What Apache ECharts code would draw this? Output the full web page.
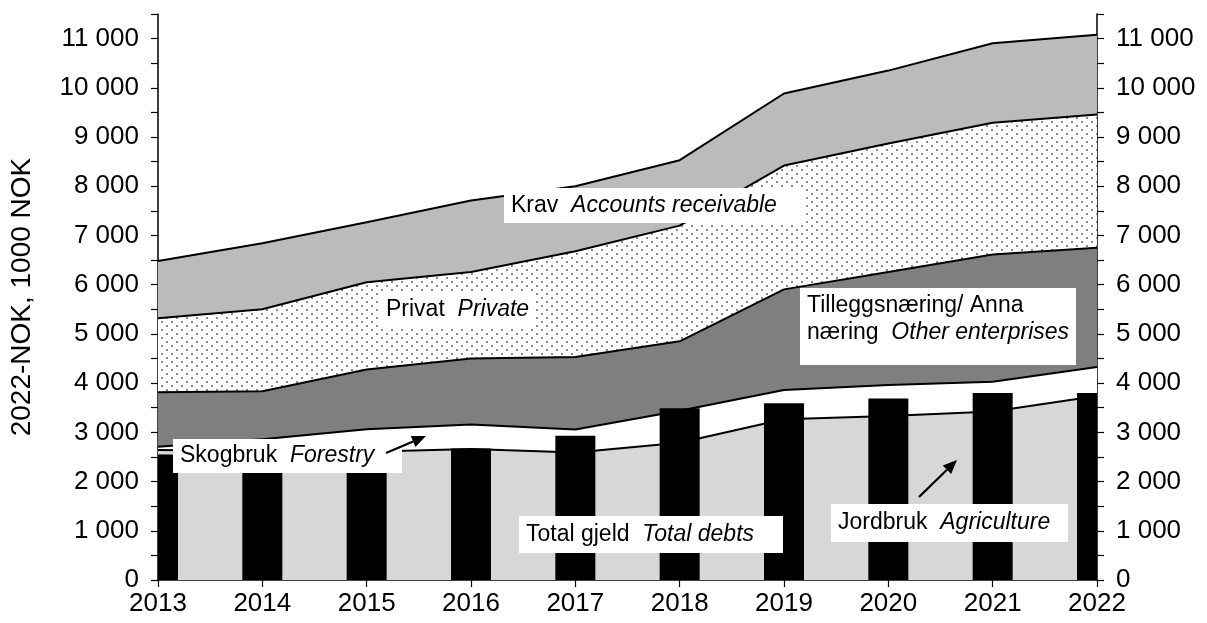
<!DOCTYPE html>
<html>
<head>
<meta charset="utf-8">
<script src="https://cdn.jsdelivr.net/npm/echarts@6/dist/echarts.min.js"></script>
<style>
  html, body { margin: 0; padding: 0; background: #fff; }
  #chart { width: 1207px; height: 623px; }
</style>
</head>
<body>
<div id="chart"></div>
<script>
// values, 1000 NOK (2022 prices)
const years = ['2013', '2014', '2015', '2016', '2017', '2018', '2019', '2020', '2021', '2022'];
const jordbruk = [2640, 2620, 2605, 2660, 2590, 2790, 3265, 3330, 3425, 3740];
const skogbruk = [65, 240, 460, 500, 470, 650, 595, 630, 605, 590];
const tillegg = [1110, 975, 1210, 1340, 1470, 1410, 2045, 2300, 2585, 2420];
const privat = [1505, 1665, 1775, 1760, 2150, 2350, 2515, 2610, 2675, 2710];
const krav = [1160, 1340, 1220, 1450, 1320, 1330, 1465, 1480, 1615, 1620];
const totalGjeld = [2550, 2450, 2550, 2670, 2930, 3490, 3590, 3690, 3800, 3800];

const FONT = '"Liberation Sans", Arial, sans-serif';

// dotted fill for "Privat"
function dotPattern() {
  const c = document.createElement('canvas');
  c.width = 10;
  c.height = 8;
  const ctx = c.getContext('2d');
  ctx.fillStyle = '#fff';
  ctx.fillRect(0, 0, 10, 8);
  ctx.fillStyle = '#8a8a8a';
  ctx.fillRect(1, 1, 2, 2);
  ctx.fillRect(6, 5, 2, 2);
  return c;
}

function tickLabel(v) {
  if (v % 1000 !== 0) return '';
  if (v === 0) return '0';
  return Math.floor(v / 1000) + ' 000';
}

function areaSeries(name, data, fill) {
  return {
    name: name,
    type: 'line',
    stack: 'total',
    data: data,
    symbol: 'none',
    lineStyle: { color: '#000', width: 2 },
    areaStyle: { color: fill, opacity: 1 },
    z: 2
  };
}

// bars centred on the ticks, cut off at the plot edges like the original
function renderBar(params, api) {
  const top = api.coord([api.value(0), api.value(1)]);
  const base = api.coord([api.value(0), 0]);
  const cs = params.coordSys;
  let x0 = Math.max(top[0] - 20, cs.x);
  let x1 = Math.min(top[0] + 20, cs.x + cs.width);
  return {
    type: 'rect',
    shape: { x: x0, y: top[1], width: x1 - x0, height: base[1] - top[1] },
    style: { fill: '#000' }
  };
}

// white box with label text, italic part in {i|...}
function note(x, y, w, h, rows, ty) {
  return [
    { type: 'rect', z: 100, shape: { x: x, y: y, width: w, height: h }, style: { fill: '#fff' } },
    {
      type: 'text',
      z: 101,
      x: x + 7,
      y: ty || (y + h / 2),
      style: {
        text: rows,
        font: '23px ' + FONT,
        fill: '#000',
        verticalAlign: 'middle',
        lineHeight: 27,
        rich: { i: { fontStyle: 'italic', fontSize: 23, fontFamily: FONT, fill: '#000' } }
      }
    }
  ];
}

function arrow(x1, y1, x2, y2) {
  const a = Math.atan2(y2 - y1, x2 - x1);
  const len = 14, wid = 6;
  const bx = x2 - len * Math.cos(a), by = y2 - len * Math.sin(a);
  const px = -Math.sin(a) * wid, py = Math.cos(a) * wid;
  return [
    { type: 'line', z: 100, shape: { x1: x1, y1: y1, x2: bx, y2: by }, style: { stroke: '#000', lineWidth: 2.2 } },
    { type: 'polygon', z: 100, shape: { points: [[x2, y2], [bx + px, by + py], [bx - px, by - py]] }, style: { fill: '#000' } }
  ];
}

const chart = echarts.init(document.getElementById('chart'));

const yBase = {
  type: 'value',
  min: 0,
  max: 11500,
  interval: 500,
  splitLine: { show: false },
  axisLine: { show: true, lineStyle: { color: '#000', width: 1.5 } },
  axisTick: { show: true, length: 7, lineStyle: { color: '#000', width: 1.2 } },
  axisLabel: { formatter: tickLabel, color: '#000', fontSize: 26, fontFamily: FONT, margin: 19 }
};

chart.setOption({
  animation: false,
  backgroundColor: '#fff',
  grid: { left: 158, right: 110, top: 14, bottom: 43 },
  xAxis: {
    type: 'category',
    data: years,
    boundaryGap: false,
    axisLine: { lineStyle: { color: '#000', width: 1.5 } },
    axisTick: { length: 7, lineStyle: { color: '#000', width: 1.2 } },
    axisLabel: { color: '#000', fontSize: 26, fontFamily: FONT, margin: 11 }
  },
  yAxis: [
    Object.assign({}, yBase, {
      position: 'left',
      name: '2022-NOK, 1000 NOK',
      nameLocation: 'middle',
      nameRotate: 90,
      nameGap: 122,
      nameTextStyle: { color: '#000', fontSize: 28, fontFamily: FONT }
    }),
    Object.assign({}, yBase, { position: 'right' })
  ],
  series: [
    areaSeries('Jordbruk', jordbruk, '#d7d7d7'),
    areaSeries('Skogbruk', skogbruk, '#ffffff'),
    areaSeries('Tilleggsnæring', tillegg, '#7f7f7f'),
    areaSeries('Privat', privat, { image: dotPattern(), repeat: 'repeat' }),
    areaSeries('Krav', krav, '#bbbbbb'),
    {
      name: 'Total gjeld',
      type: 'custom',
      renderItem: renderBar,
      data: totalGjeld.map((v, i) => [i, v]),
      encode: { x: 0, y: 1 },
      z: 5
    }
  ],
  graphic: [].concat(
    note(504, 188, 302, 35, 'Krav  {i|Accounts receivable}'),
    note(379, 292, 157, 36, 'Privat  {i|Private}'),
    note(800, 288, 276, 77, 'Tilleggsnæring/ Anna\nnæring  {i|Other enterprises}', 319),
    note(173, 439, 229, 34, 'Skogbruk  {i|Forestry}'),
    note(519, 516, 264, 37, 'Total gjeld  {i|Total debts}'),
    note(831, 504, 237, 38, 'Jordbruk  {i|Agriculture}'),
    arrow(386, 453, 426, 436),
    arrow(919, 497, 957, 460)
  )
});
</script>
</body>
</html>
